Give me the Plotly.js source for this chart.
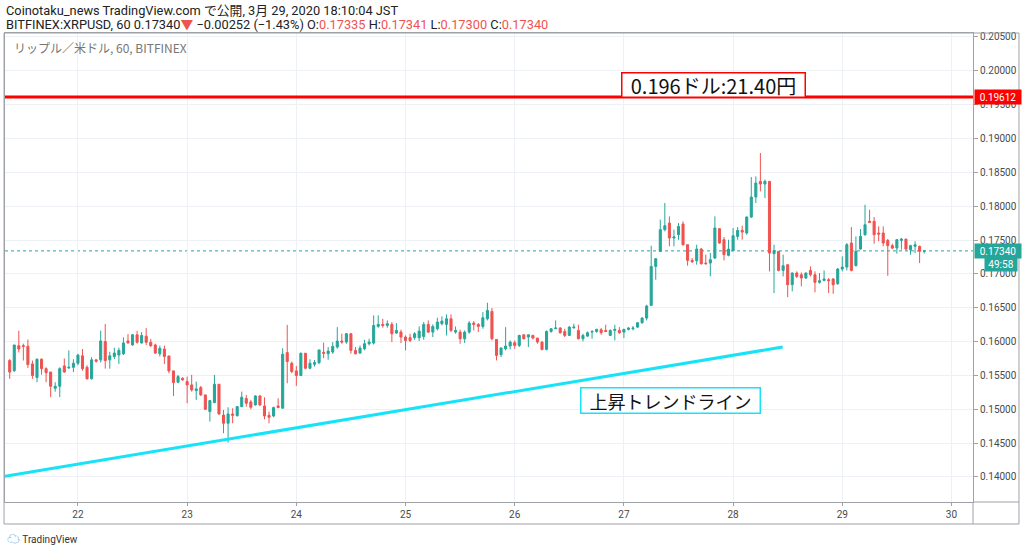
<!DOCTYPE html>
<html>
<head>
<meta charset="utf-8">
<script src="https://cdn.plot.ly/plotly-3.0.1.min.js"></script>
<style>
html,body{margin:0;padding:0;background:#fff;}
#chart{width:1024px;height:552px;}
</style>
</head>
<body>
<div id="chart"></div>
<script>
// Hourly candles, XRP/USD (Bitfinex), first candle 2020-03-21 09:00
const firstCandle = '2020-03-21T09:00:00Z';

const openP = [
0.1572,0.1557,0.1594,0.1594,0.1593,0.1567,0.1547,0.1574,0.1560,0.1555,
0.1531,0.1534,0.1564,0.1561,0.1562,0.1568,0.1579,0.1562,0.1545,0.1573,
0.1573,0.1600,0.1573,0.1578,0.1580,0.1582,0.1601,0.1595,0.1610,0.1598,
0.1608,0.1599,0.1595,0.1582,0.1589,0.15788,0.15567,0.15399,0.15458,0.15409,
0.15360,0.15276,0.15320,0.15212,0.14966,0.15099,0.15370,0.14915,0.14793,0.14931,
0.14906,0.15039,0.15158,0.15108,0.15064,0.15197,0.15049,0.14911,0.14901,0.15049,
0.15015,0.15837,0.15680,0.15567,0.15498,0.15828,0.15606,0.15665,0.15690,0.15842,
0.15820,0.15845,0.15919,0.16008,0.15993,0.16116,0.15870,0.15830,0.15894,0.15968,
0.15978,0.16224,0.16254,0.16239,0.16254,0.16126,0.16140,0.16067,0.16057,0.16057,
0.16057,0.16076,0.16254,0.16140,0.16190,0.16264,0.16254,0.16337,0.16140,0.16140,
0.16042,0.16140,0.16273,0.16254,0.16224,0.16337,0.16446,0.16032,0.15806,0.15894,
0.15934,0.15983,0.15943,0.16101,0.16067,0.16091,0.16052,0.15993,0.15884,0.16150,
0.16190,0.16200,0.16150,0.16091,0.16204,0.16165,0.16042,0.16081,0.16140,0.16150,
0.16175,0.16165,0.16091,0.16165,0.16165,0.16140,0.16180,0.16190,0.16214,0.16278,
0.16347,0.16535,0.17111,0.17333,0.17653,0.17751,0.17530,0.17579,0.17737,0.17431,
0.17200,0.17195,0.17367,0.17160,0.17160,0.17234,0.17668,0.17505,0.17274,0.17343,
0.17554,0.17643,0.17604,0.17840,0.18136,0.18367,0.18328,0.18367,0.17298,0.17333,
0.17052,0.17136,0.16840,0.17013,0.16988,0.16939,0.17052,0.16988,0.16875,0.16904,
0.16914,0.16924,0.16855,0.17072,0.17101,0.17456,0.17121,0.17367,0.17579,0.17776,
0.17776,0.17604,0.17604,0.17495,0.17417,0.17382,0.17495,0.17515,0.17357,0.17407,
0.17407,0.17335
];
const highP = [
0.1574,0.1595,0.1616,0.1597,0.1603,0.1572,0.1575,0.1575,0.1562,0.1555,
0.1540,0.1562,0.1575,0.1587,0.1574,0.1582,0.1589,0.1565,0.1577,0.1574,
0.1616,0.1626,0.1585,0.1591,0.1591,0.1606,0.1611,0.1611,0.1616,0.1614,
0.1620,0.1604,0.1597,0.1594,0.1594,0.15788,0.15567,0.15508,0.15473,0.15483,
0.15508,0.15409,0.15345,0.15212,0.15138,0.15508,0.15370,0.14990,0.15030,0.15015,
0.15049,0.15261,0.15212,0.15138,0.15207,0.15212,0.15177,0.14966,0.15039,0.15163,
0.15902,0.16246,0.15705,0.15640,0.15837,0.15828,0.15739,0.15729,0.15877,0.15985,
0.15919,0.15993,0.16214,0.16116,0.16126,0.16126,0.15919,0.15943,0.16027,0.16042,
0.16387,0.16387,0.16337,0.16313,0.16288,0.16273,0.16175,0.16091,0.16116,0.16140,
0.16224,0.16288,0.16313,0.16254,0.16352,0.16372,0.16402,0.16402,0.16224,0.16175,
0.16165,0.16303,0.16303,0.16273,0.16436,0.16574,0.16495,0.16032,0.15919,0.16214,
0.16017,0.16017,0.16101,0.16101,0.16101,0.16101,0.16052,0.16003,0.16165,0.16200,
0.16313,0.16214,0.16190,0.16229,0.16264,0.16249,0.16116,0.16150,0.16165,0.16190,
0.16200,0.16249,0.16180,0.16249,0.16214,0.16190,0.16214,0.16229,0.16288,0.16362,
0.16544,0.17417,0.17234,0.17801,0.18047,0.17850,0.17653,0.17751,0.17776,0.17431,
0.17234,0.17431,0.17382,0.17284,0.17308,0.17850,0.17678,0.17545,0.17505,0.17678,
0.17692,0.17712,0.17850,0.18431,0.18441,0.18786,0.18392,0.18367,0.17431,0.17333,
0.17284,0.17136,0.17022,0.17037,0.17022,0.17022,0.17111,0.17037,0.17013,0.17052,
0.16939,0.16939,0.17087,0.17259,0.17456,0.17692,0.17554,0.17663,0.18022,0.17948,
0.17840,0.17702,0.17702,0.17515,0.17446,0.17515,0.17530,0.17515,0.17431,0.17481,
0.17417,0.17341
];
const lowP = [
0.1545,0.1555,0.1584,0.1572,0.1561,0.1545,0.1540,0.1551,0.1540,0.1518,
0.1526,0.1518,0.1554,0.1560,0.1555,0.1565,0.1557,0.1544,0.1544,0.1569,
0.1569,0.1560,0.1560,0.1574,0.1567,0.1580,0.1597,0.1594,0.1597,0.1597,
0.1595,0.1592,0.1582,0.1578,0.1567,0.15532,0.15197,0.15384,0.15424,0.15089,
0.15261,0.15138,0.15197,0.14990,0.14818,0.15089,0.14915,0.14646,0.14508,0.14793,
0.14891,0.15030,0.15039,0.15000,0.15054,0.15049,0.14852,0.14793,0.14882,0.15015,
0.15015,0.15384,0.15532,0.15345,0.15493,0.15591,0.15591,0.15631,0.15665,0.15754,
0.15732,0.15820,0.15894,0.15968,0.15968,0.15820,0.15810,0.15820,0.15870,0.15943,
0.15958,0.16205,0.16205,0.16205,0.15993,0.16116,0.15978,0.15870,0.15993,0.16027,
0.16008,0.16027,0.16126,0.16067,0.16165,0.16239,0.16091,0.16140,0.16116,0.15968,
0.15978,0.16116,0.16165,0.16140,0.16190,0.16313,0.16017,0.15722,0.15771,0.15870,
0.15884,0.15894,0.15919,0.16032,0.15919,0.16032,0.15968,0.15870,0.15870,0.16131,
0.16190,0.16116,0.16067,0.16081,0.16190,0.16032,0.16003,0.16067,0.16042,0.16131,
0.16101,0.16140,0.16081,0.16017,0.16116,0.16052,0.16165,0.16165,0.16200,0.16264,
0.16313,0.16525,0.16914,0.17333,0.17628,0.17407,0.17407,0.17505,0.17417,0.17121,
0.17160,0.17136,0.17136,0.17136,0.16963,0.17219,0.17446,0.17200,0.17259,0.17333,
0.17505,0.17505,0.17579,0.17825,0.18047,0.18219,0.18121,0.17037,0.16717,0.17037,
0.16963,0.16658,0.16742,0.16939,0.16816,0.16924,0.16963,0.16727,0.16855,0.16890,
0.16717,0.16707,0.16840,0.17037,0.17052,0.17037,0.17111,0.17357,0.17564,0.17751,
0.17446,0.17481,0.17407,0.16973,0.17367,0.17298,0.17357,0.17348,0.17284,0.17308,
0.17160,0.17300
];
const closeP = [
0.1555,0.1595,0.1589,0.1593,0.1566,0.1550,0.1574,0.1560,0.1554,0.1534,
0.1534,0.1560,0.1555,0.1562,0.1568,0.1580,0.1560,0.1545,0.1573,0.1571,
0.1601,0.1572,0.1579,0.1583,0.1587,0.1598,0.1598,0.1610,0.1599,0.1609,
0.1599,0.1594,0.1583,0.1590,0.1578,0.15567,0.15394,0.15483,0.15434,0.15360,
0.15286,0.15301,0.15212,0.15000,0.15128,0.15370,0.14931,0.14793,0.14931,0.14911,
0.15039,0.15177,0.15089,0.15030,0.15197,0.15064,0.14901,0.14882,0.15025,0.15025,
0.15813,0.15705,0.15557,0.15498,0.15828,0.15606,0.15680,0.15690,0.15877,0.15828,
0.15860,0.15929,0.16008,0.15993,0.16116,0.15870,0.15820,0.15904,0.15968,0.15993,
0.16239,0.16254,0.16239,0.16264,0.16116,0.16165,0.16067,0.16017,0.16017,0.16116,
0.16155,0.16254,0.16140,0.16224,0.16288,0.16303,0.16337,0.16165,0.16165,0.16042,
0.16140,0.16273,0.16254,0.16224,0.16352,0.16461,0.16042,0.15796,0.15904,0.15934,
0.15993,0.15943,0.16091,0.16042,0.16101,0.16052,0.15993,0.15884,0.16150,0.16190,
0.16200,0.16131,0.16091,0.16214,0.16214,0.16042,0.16091,0.16131,0.16150,0.16180,
0.16131,0.16150,0.16165,0.16180,0.16131,0.16180,0.16200,0.16200,0.16278,0.16347,
0.16525,0.17111,0.17224,0.17653,0.17712,0.17530,0.17545,0.17702,0.17431,0.17200,
0.17180,0.17367,0.17151,0.17151,0.17210,0.17678,0.17456,0.17284,0.17367,0.17564,
0.17643,0.17618,0.17840,0.18136,0.18342,0.18328,0.18367,0.17308,0.17343,0.17052,
0.17121,0.16840,0.17013,0.16963,0.16939,0.17013,0.16988,0.16875,0.16899,0.16924,
0.16899,0.16840,0.17072,0.17101,0.17431,0.17052,0.17333,0.17554,0.17727,0.17761,
0.17579,0.17589,0.17456,0.17417,0.17382,0.17505,0.17515,0.17367,0.17417,0.17431,
0.17333,0.17340
];

// Drawn objects
const resistanceLevel = 0.19612;
const lastPrice = 0.17340;
const trendX = ['2020-03-21 07:58', '2020-03-28 10:54'];
const trendY = [0.1401, 0.1592];
const resistanceLabel = '0.196ドル:21.40円';
const trendLabel = '上昇トレンドライン';
const countdownLabel = '49:58';

// Axis ticks
const yTickVals = [0.140,0.145,0.150,0.155,0.160,0.165,0.170,0.175,0.180,0.185,0.190,0.195,0.200,0.205];
const xTickLabels = ['22','23','24','25','26','27','28','29','30'];
const xTickDates = ['2020-03-22','2020-03-23','2020-03-24','2020-03-25','2020-03-26','2020-03-27','2020-03-28','2020-03-29','2020-03-30'];

// Header texts
const headerLine1 = 'Coinotaku_news TradingView.com で公開, 3月 29, 2020 18:10:04 JST';
const symbolText = 'BITFINEX:XRPUSD, 60';
const changeText = '−0.00252 (−1.43%)';
const ohlcLast = {O:'0.17335', H:'0.17341', L:'0.17300', C:'0.17340'};
const watermark = 'リップル／米ドル, 60, BITFINEX';

// build hourly timestamps
const times = [];
const t0 = Date.parse(firstCandle);
for (let k = 0; k < openP.length; k++) {
  times.push(new Date(t0 + k*3600000).toISOString().slice(0,16).replace('T',' '));
}

const UP = '#26a69a', DOWN = '#ef5350';
const FONT = "Roboto, 'Noto Sans CJK JP', sans-serif";
const JP = "'Noto Sans CJK JP', sans-serif";

const candle = {
  type: 'candlestick',
  x: times, open: openP, high: highP, low: lowP, close: closeP,
  increasing: {line: {color: UP, width: 1}, fillcolor: UP},
  decreasing: {line: {color: DOWN, width: 1}, fillcolor: DOWN},
  whiskerwidth: 0,
  hoverinfo: 'skip',
  showlegend: false
};
const trend = {
  type: 'scatter', mode: 'lines', x: trendX, y: trendY,
  line: {color: '#16e2f8', width: 3}, hoverinfo: 'skip', showlegend: false
};

const red = s => `<span style="color:${DOWN}">${s}</span>`;
const line2 = `${symbolText} ${lastPrice.toFixed(5)}${red('▼')} ${changeText} O:${red(ohlcLast.O)} H:${red(ohlcLast.H)} L:${red(ohlcLast.L)} C:${red(ohlcLast.C)}`;

const frame = '#9ea1a8';
const layout = {
  width: 1024, height: 552,
  margin: {l: 5, r: 51, t: 33, b: 50},
  paper_bgcolor: '#fff', plot_bgcolor: '#fff',
  boxgap: 0.35,
  font: {family: FONT, color: '#4a4a4a', size: 10},
  xaxis: {
    type: 'date',
    range: ['2020-03-21 07:58', '2020-03-30 04:44'],
    rangeslider: {visible: false},
    tickmode: 'array', tickvals: xTickDates, ticktext: xTickLabels,
    showgrid: true, gridcolor: '#edf1f5', gridwidth: 1,
    showline: true, linecolor: frame, linewidth: 1, mirror: true,
    ticks: 'outside', ticklen: 3, tickcolor: frame,
    tickfont: {size: 10, color: '#4a4a4a'},
    zeroline: false, fixedrange: true
  },
  yaxis: {
    side: 'right',
    range: [0.13630, 0.20559],
    tickmode: 'array', tickvals: yTickVals, ticktext: yTickVals.map(v => v.toFixed(5)),
    showgrid: true, gridcolor: '#edf1f5', gridwidth: 1,
    showline: true, linecolor: frame, linewidth: 1, mirror: true,
    ticks: 'outside', ticklen: 4, tickcolor: frame,
    tickfont: {size: 10, color: '#4a4a4a'},
    zeroline: false, fixedrange: true
  },
  shapes: [
    // outer frame
    {type: 'rect', xref: 'paper', yref: 'paper', x0: -0.001, x1: 1.0475, y0: -0.0469, y1: 1,
     line: {color: frame, width: 1}, layer: 'above'},
    {type: 'line', xref: 'paper', yref: 'paper', x0: 1, x1: 1, y0: -0.0469, y1: 0,
     line: {color: frame, width: 1}},
    {type: 'line', xref: 'paper', yref: 'paper', x0: 1, x1: 1.0475, y0: 0, y1: 0,
     line: {color: frame, width: 1}},
    // last price dotted line
    {type: 'line', xref: 'paper', yref: 'y', x0: 0, x1: 1, y0: lastPrice, y1: lastPrice,
     line: {color: UP, width: 1, dash: 'dot'}, layer: 'below'},
    // resistance line
    {type: 'line', xref: 'paper', yref: 'y', x0: 0, x1: 1, y0: resistanceLevel, y1: resistanceLevel,
     line: {color: '#ff0000', width: 3}}
  ],
  annotations: [
    {xref: 'paper', yref: 'paper', x: -0.001, y: 1.049, xanchor: 'left', yanchor: 'middle',
     text: headerLine1, showarrow: false, font: {family: FONT, size: 12.8, color: '#222'}},
    {xref: 'paper', yref: 'paper', x: -0.001, y: 1.019, xanchor: 'left', yanchor: 'middle',
     text: line2, showarrow: false, font: {family: FONT, size: 12.8, color: '#222'}},
    {xref: 'paper', yref: 'paper', x: 0.0072, y: 0.970, xanchor: 'left', yanchor: 'middle',
     text: watermark, showarrow: false, font: {family: JP, size: 12, color: '#777'}},
    {xref: 'paper', yref: 'paper', x: 0.7324, y: 0.889, xanchor: 'center', yanchor: 'middle',
     text: resistanceLabel, showarrow: false, font: {family: JP, size: 20, color: '#111'},
     bgcolor: '#fff', bordercolor: '#ff0000', borderwidth: 1.5, borderpad: 1, width: 180, height: 21},
    {xref: 'paper', yref: 'paper', x: 0.687, y: 0.2154, xanchor: 'center', yanchor: 'middle',
     text: trendLabel, showarrow: false, font: {family: JP, size: 18, color: '#111'},
     bgcolor: '#fff', bordercolor: '#16e2f8', borderwidth: 1.5, borderpad: 1, width: 176, height: 22},
    // right-axis price tags
    {xref: 'paper', yref: 'y', x: 1.001, y: resistanceLevel, xanchor: 'left', yanchor: 'middle',
     text: resistanceLevel.toFixed(5), showarrow: false, font: {size: 10, color: '#fff'},
     bgcolor: '#ff0000', width: 44, height: 12, align: 'center'},
    {xref: 'paper', yref: 'y', x: 1.001, y: lastPrice, xanchor: 'left', yanchor: 'middle',
     text: lastPrice.toFixed(5), showarrow: false, font: {size: 10, color: '#fff'},
     bgcolor: UP, width: 44, height: 12, align: 'center'},
    {xref: 'paper', yref: 'paper', x: 1.0465, y: 0.507, xanchor: 'right', yanchor: 'middle',
     text: countdownLabel, showarrow: false, font: {size: 10, color: '#fff'},
     bgcolor: UP, width: 30, height: 12, align: 'center'},
    // footer logo
    {xref: 'paper', yref: 'paper', x: 0.0, y: -0.078, xanchor: 'left', yanchor: 'middle',
     text: '<span style="color:#2196f3;font-size:13px">☁</span> TradingView', showarrow: false,
     font: {family: FONT, size: 10, color: '#333'}}
  ]
};

Plotly.newPlot('chart', [candle, trend], layout, {staticPlot: true, displayModeBar: false});
</script>
</body>
</html>
